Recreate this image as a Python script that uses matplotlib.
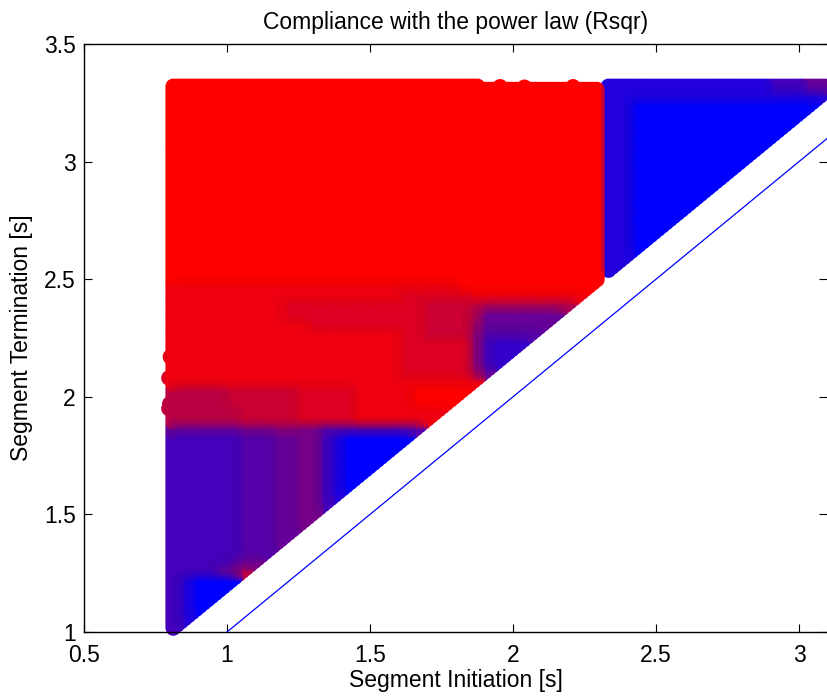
import numpy as np
import matplotlib
matplotlib.use("Agg")
import matplotlib.pyplot as plt

plt.rcParams['font.family'] = ['Liberation Sans', 'DejaVu Sans']

TITLE = "Compliance with the power law (Rsqr)"
XLABEL = "Segment Initiation [s]"
YLABEL = "Segment Termination [s]"
x_ticks = [0.5, 1, 1.5, 2, 2.5, 3]
x_tick_labels = ["0.5", "1", "1.5", "2", "2.5", "3"]
y_ticks = [1, 1.5, 2, 2.5, 3, 3.5]
y_tick_labels = ["1", "1.5", "2", "2.5", "3", "3.5"]

initiation_start, initiation_step = 0.812, 0.0404
termination_start, termination_step = 1.017, 0.0404

# Rsqr class of each segment, hex 0 (blue) .. f (red); one row per termination time, bottom first
rsqr_rows = [
    "4",
    "42",
    "420",
    "4200",
    "42000",
    "420000",
    "444467b",
    "44444567",
    "444444555",
    "4444445556",
    "44444455566",
    "444444555667",
    "4444445556677",
    "44444455566774",
    "444444555667742",
    "4444445556677420",
    "44444455566774200",
    "444444555667742000",
    "4444445556677420000",
    "44444455566774200000",
    "444444555667742000000",
    "6"*6 + "777" + "88" + "77" + "5"*9,
    "b"*6 + "c"*5 + "d"*5 + "e"*7,
    "b"*6 + "c"*5 + "d"*5 + "e"*8,
    "b"*5 + "c"*6 + "d"*5 + "e"*5 + "f"*4,
    "b"*5 + "c"*6 + "d"*5 + "e"*5 + "f"*5,
    "e"*27,
    "e"*20 + "d"*6 + "96",
    "e"*20 + "d"*6 + "8" + "433",
    "e"*20 + "d"*6 + "8" + "4333",
    "e"*20 + "d"*6 + "8" + "43333",
    "e"*20 + "dd" + "cccc" + "8" + "55555",
    "e"*12 + "d"*10 + "c"*4 + "9" + "6"*6,
    "e"*10 + "d"*12 + "c"*4 + "a" + "6"*7,
    "e"*10 + "d"*12 + "c"*4 + "b" + "a"*8,
    "e"*20 + "d"*6 + "e"*10,
    "e"*25 + "f"*12,
    "f"*38,
    "f"*38 + "2",
    "f"*38 + "22",
    "f"*38 + "22" + "0",
    "f"*38 + "22" + "0"*2,
    "f"*38 + "22" + "0"*3,
    "f"*38 + "22" + "0"*4,
    "f"*38 + "22" + "0"*5,
    "f"*38 + "22" + "0"*6,
    "f"*38 + "22" + "0"*7,
    "f"*38 + "22" + "0"*8,
    "f"*38 + "22" + "0"*9,
    "f"*38 + "22" + "0"*10,
    "f"*38 + "22" + "0"*11,
    "f"*38 + "22" + "0"*12,
    "f"*38 + "22" + "0"*13,
    "f"*38 + "22" + "0"*14,
    "f"*38 + "22" + "0"*15,
    "f"*38 + "22" + "0"*16,
    "f"*38 + "2"*19,
    "f"*38 + "2"*14 + "444" + "666",
]

# Stray segments that stick out on the left and top edges
stray_x = [0.797, 0.797, 0.802, 0.800, 1.955, 2.04, 2.21]
stray_y = [2.08, 1.95, 2.17, 1.97, 3.318, 3.316, 3.318]
stray_r = [0.85, 0.75, 0.9, 0.75, 1.0, 1.0, 1.0]

# Rightmost red column and the columns whose top row ends a little lower
trim_column = 37
short_top_columns = range(27, 38)

# Reference diagonal
diag_x = [1.0, 3.1]
diag_y = [1.0, 3.1]

W, H = 827, 696
fig = plt.figure(figsize=(W / 100, H / 100), dpi=100)
ax = fig.add_axes([84 / W, (H - 632) / H, (W - 84) / W, (632 - 44) / H])

# Each class cell is sampled at three starts and three ends; points are stacked
# column by column from the right and bottom to top, giving the scalloped borders.
ncol = max(len(r) for r in rsqr_rows)
nrow = len(rsqr_rows)
sub = (-1, 0, 1)
xs, ys, rs = [], [], []
for j in range(ncol - 1, -1, -1):
    for a in (1, 0, -1):
        for k, row in enumerate(rsqr_rows):
            if j >= len(row):
                continue
            for b in sub:
                if (j == 0 and a < 0) or (k == 0 and b < 0) or (k == nrow - 1 and b > 0):
                    continue
                if (k * 3 + b) < (j * 3 + a):
                    continue
                if j == trim_column and a >= 0 and k >= trim_column:
                    continue
                if k == nrow - 1 and b == 0 and j in short_top_columns:
                    continue
                xs.append(initiation_start + (j + a / 3) * initiation_step)
                ys.append(termination_start + (k + b / 3) * termination_step)
                rs.append(int(row[j], 16) / 15)
rs = np.array(rs)
cols = np.column_stack([rs, np.zeros_like(rs), 1 - rs])
marker_area = 125
sr = np.array(stray_r)
ax.scatter(stray_x, stray_y, s=marker_area, c=np.column_stack([sr, 0 * sr, 1 - sr]),
           linewidths=0, clip_on=False, zorder=1)
ax.scatter(xs, ys, s=marker_area, c=cols, linewidths=0, clip_on=False, zorder=2)
ax.scatter(xs, ys, s=marker_area, c=cols, linewidths=0, alpha=0.12, clip_on=False, zorder=2.1)

ax.plot(diag_x, diag_y, color="#0000ff", lw=0.9, zorder=3)

ax.set_xlim(0.5, 0.5 + (W - 84) / 286)
ax.set_ylim(1, 1 + (632 - 44) / 235.2)
ax.set_xticks(x_ticks, x_tick_labels)
ax.set_yticks(y_ticks, y_tick_labels)
ax.tick_params(axis="both", direction="in", top=True, right=True, length=5.5, width=0.8,
               labelsize=16.5, color="black")
ax.tick_params(axis="x", pad=9.0)
ax.tick_params(axis="y", pad=6.0)
for side in ("left", "bottom", "top"):
    ax.spines[side].set_linewidth(1.0)
ax.spines["right"].set_visible(False)
ax.set_axisbelow(False)

ax.set_xlabel(XLABEL, fontsize=16.5, va="center")
ax.xaxis.set_label_coords(0.5, (632 - 680) / (632 - 44))
ax.set_ylabel(YLABEL, fontsize=16.5, va="center")
ax.yaxis.set_label_coords((22 - 84) / (W - 84), 0.5)
ax.set_title(TITLE, fontsize=16.5, pad=0, va="center", y=(632 - 22) / (632 - 44))

fig.savefig("out.png", dpi=100)
